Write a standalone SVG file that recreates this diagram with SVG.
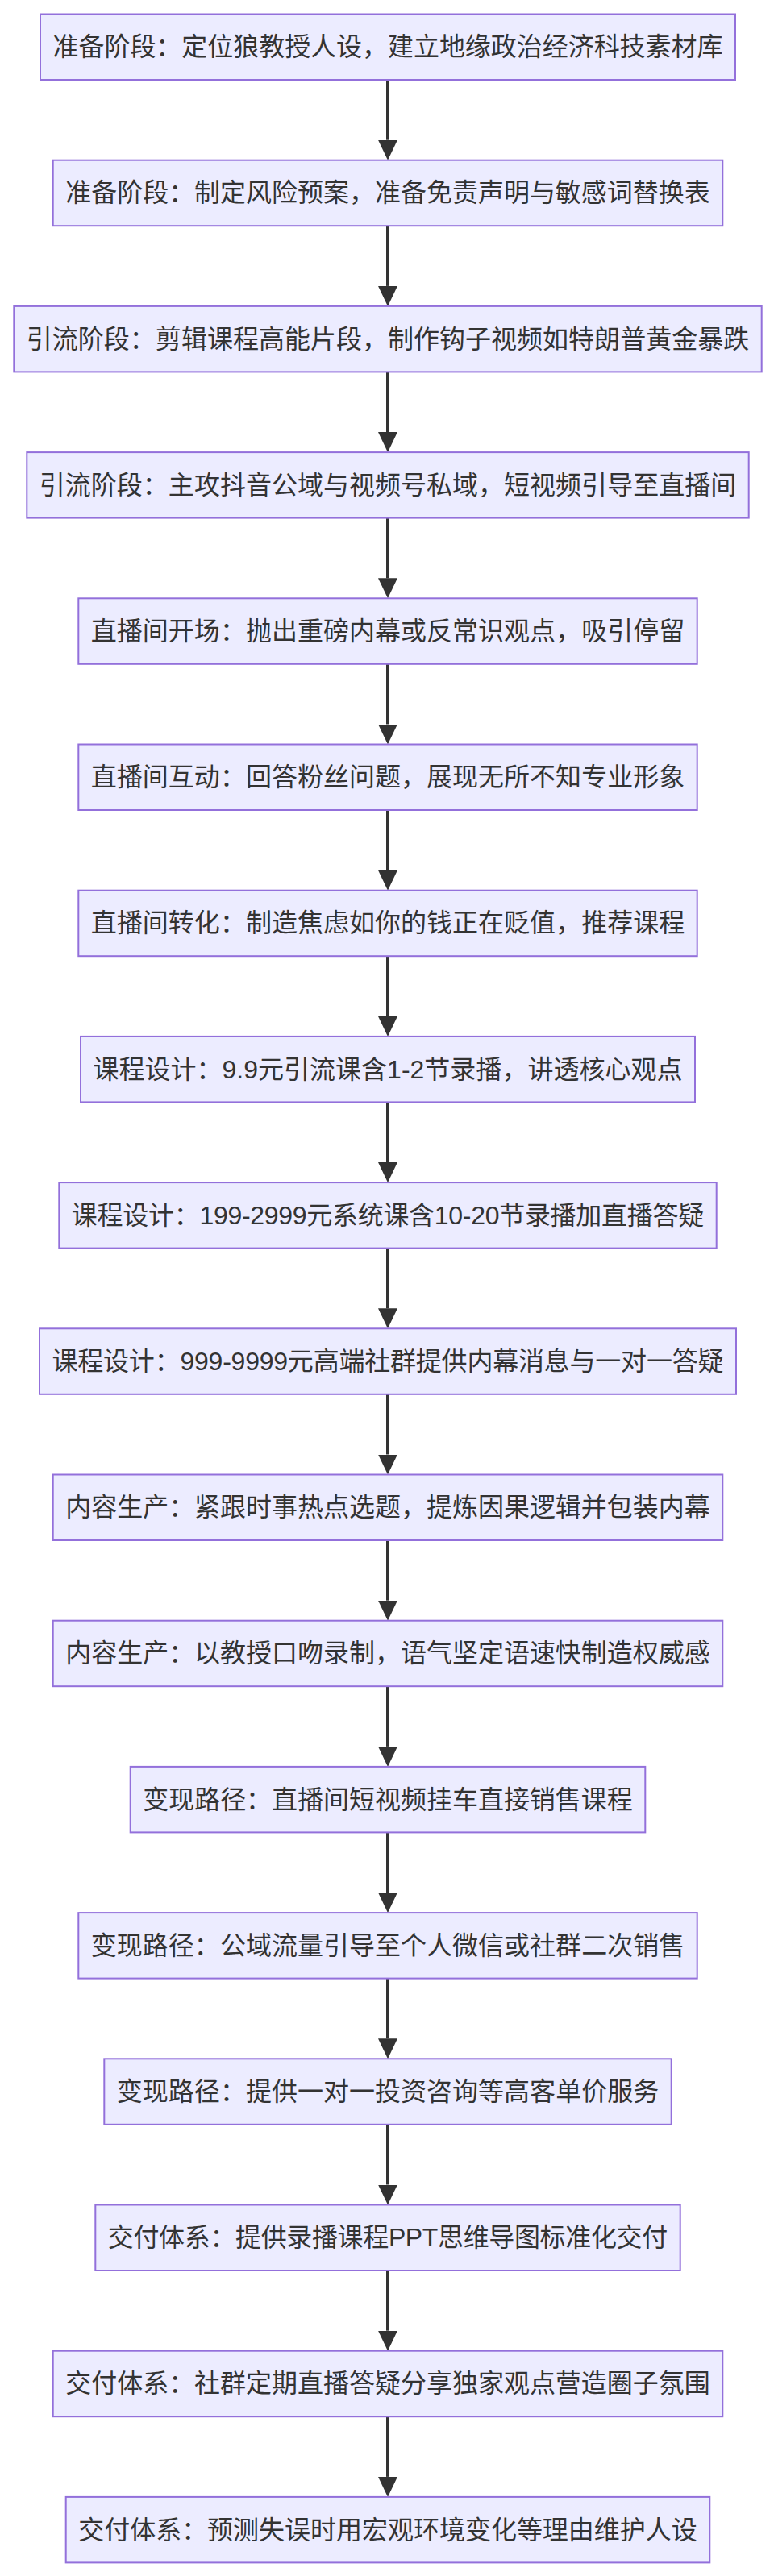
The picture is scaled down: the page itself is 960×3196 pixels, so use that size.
<svg xmlns="http://www.w3.org/2000/svg" width="960" height="3196" viewBox="0 0 960 3196">
<style>
.node rect{fill:#ECECFF;stroke:#9370DB;stroke-width:2}
.node text{font-family:"Liberation Sans","Noto Sans CJK SC",sans-serif;font-size:32px;fill:#333;text-anchor:middle;dominant-baseline:central}
.edge{stroke:#333;stroke-width:4;fill:none}
</style>
<defs>
<marker id="arrow" markerUnits="userSpaceOnUse" viewBox="0 0 25 24" markerWidth="25" markerHeight="24" refX="0" refY="12" orient="auto">
<path d="M0,0 L25,12 L0,24 z" fill="#333"/>
</marker>
</defs>
<rect width="960" height="3196" fill="#fff"/>
<g id="edges">
<path class="edge" marker-end="url(#arrow)" d="M481,99 V173.7"/>
<path class="edge" marker-end="url(#arrow)" d="M481,280.2 V354.9"/>
<path class="edge" marker-end="url(#arrow)" d="M481,461.4 V536.1"/>
<path class="edge" marker-end="url(#arrow)" d="M481,642.6 V717.3"/>
<path class="edge" marker-end="url(#arrow)" d="M481,823.8 V898.5"/>
<path class="edge" marker-end="url(#arrow)" d="M481,1005 V1079.7"/>
<path class="edge" marker-end="url(#arrow)" d="M481,1186.2 V1260.9"/>
<path class="edge" marker-end="url(#arrow)" d="M481,1367.4 V1442.1"/>
<path class="edge" marker-end="url(#arrow)" d="M481,1548.6 V1623.3"/>
<path class="edge" marker-end="url(#arrow)" d="M481,1729.8 V1804.5"/>
<path class="edge" marker-end="url(#arrow)" d="M481,1911 V1985.7"/>
<path class="edge" marker-end="url(#arrow)" d="M481,2092.2 V2166.9"/>
<path class="edge" marker-end="url(#arrow)" d="M481,2273.4 V2348.1"/>
<path class="edge" marker-end="url(#arrow)" d="M481,2454.6 V2529.3"/>
<path class="edge" marker-end="url(#arrow)" d="M481,2635.8 V2710.5"/>
<path class="edge" marker-end="url(#arrow)" d="M481,2817 V2891.7"/>
<path class="edge" marker-end="url(#arrow)" d="M481,2998.2 V3072.9"/>
</g>
<g id="n1" class="node"><rect x="50" y="17.5" width="862" height="81.5"/><text x="481" y="58.25" textLength="831" lengthAdjust="spacing">准备阶段：定位狼教授人设，建立地缘政治经济科技素材库</text></g>
<g id="n2" class="node"><rect x="65.7" y="198.7" width="830.6" height="81.5"/><text x="481" y="239.45" textLength="799.6" lengthAdjust="spacing">准备阶段：制定风险预案，准备免责声明与敏感词替换表</text></g>
<g id="n3" class="node"><rect x="17.3" y="379.9" width="927.4" height="81.5"/><text x="481" y="420.65" textLength="896.4" lengthAdjust="spacing">引流阶段：剪辑课程高能片段，制作钩子视频如特朗普黄金暴跌</text></g>
<g id="n4" class="node"><rect x="33.3" y="561.1" width="895.4" height="81.5"/><text x="481" y="601.85" textLength="864.4" lengthAdjust="spacing">引流阶段：主攻抖音公域与视频号私域，短视频引导至直播间</text></g>
<g id="n5" class="node"><rect x="97.3" y="742.3" width="767.4" height="81.5"/><text x="481" y="783.05" textLength="736.4" lengthAdjust="spacing">直播间开场：抛出重磅内幕或反常识观点，吸引停留</text></g>
<g id="n6" class="node"><rect x="97.3" y="923.5" width="767.4" height="81.5"/><text x="481" y="964.25" textLength="736.4" lengthAdjust="spacing">直播间互动：回答粉丝问题，展现无所不知专业形象</text></g>
<g id="n7" class="node"><rect x="97.3" y="1104.7" width="767.4" height="81.5"/><text x="481" y="1145.45" textLength="736.4" lengthAdjust="spacing">直播间转化：制造焦虑如你的钱正在贬值，推荐课程</text></g>
<g id="n8" class="node"><rect x="100" y="1285.9" width="762" height="81.5"/><text x="481" y="1326.65" textLength="731" lengthAdjust="spacing">课程设计：9.9元引流课含1-2节录播，讲透核心观点</text></g>
<g id="n9" class="node"><rect x="73.3" y="1467.1" width="815.4" height="81.5"/><text x="481" y="1507.85" textLength="784.4" lengthAdjust="spacing">课程设计：199-2999元系统课含10-20节录播加直播答疑</text></g>
<g id="n10" class="node"><rect x="49" y="1648.3" width="864" height="81.5"/><text x="481" y="1689.05" textLength="833" lengthAdjust="spacing">课程设计：999-9999元高端社群提供内幕消息与一对一答疑</text></g>
<g id="n11" class="node"><rect x="65.7" y="1829.5" width="830.6" height="81.5"/><text x="481" y="1870.25" textLength="799.6" lengthAdjust="spacing">内容生产：紧跟时事热点选题，提炼因果逻辑并包装内幕</text></g>
<g id="n12" class="node"><rect x="65.7" y="2010.7" width="830.6" height="81.5"/><text x="481" y="2051.45" textLength="799.6" lengthAdjust="spacing">内容生产：以教授口吻录制，语气坚定语速快制造权威感</text></g>
<g id="n13" class="node"><rect x="161.7" y="2191.9" width="638.6" height="81.5"/><text x="481" y="2232.65" textLength="607.6" lengthAdjust="spacing">变现路径：直播间短视频挂车直接销售课程</text></g>
<g id="n14" class="node"><rect x="97.3" y="2373.1" width="767.4" height="81.5"/><text x="481" y="2413.85" textLength="736.4" lengthAdjust="spacing">变现路径：公域流量引导至个人微信或社群二次销售</text></g>
<g id="n15" class="node"><rect x="129.3" y="2554.3" width="703.4" height="81.5"/><text x="481" y="2595.05" textLength="672.4" lengthAdjust="spacing">变现路径：提供一对一投资咨询等高客单价服务</text></g>
<g id="n16" class="node"><rect x="118.3" y="2735.5" width="725.4" height="81.5"/><text x="481" y="2776.25" textLength="694.4" lengthAdjust="spacing">交付体系：提供录播课程PPT思维导图标准化交付</text></g>
<g id="n17" class="node"><rect x="65.7" y="2916.7" width="830.6" height="81.5"/><text x="481" y="2957.45" textLength="799.6" lengthAdjust="spacing">交付体系：社群定期直播答疑分享独家观点营造圈子氛围</text></g>
<g id="n18" class="node"><rect x="81.7" y="3097.9" width="798.6" height="81.5"/><text x="481" y="3138.65" textLength="767.6" lengthAdjust="spacing">交付体系：预测失误时用宏观环境变化等理由维护人设</text></g>
</svg>
